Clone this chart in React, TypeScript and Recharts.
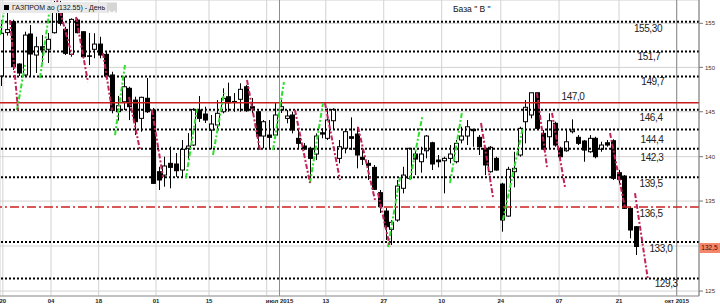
import React from 'react';
import { ComposedChart, Bar, XAxis, YAxis, CartesianGrid, ReferenceLine, ReferenceDot } from 'recharts';

// ---- candle data (trading-day index = position in arrays) ----
const openP = [149.80,154.2,155.30,151.02,149.91,154.06,151.93,152.77,152.51,154.19,156.31,154.53,152.00,155.47,154.29,151.85,152.51,153.04,152.00,149.91,146.2,147.20,148.56,147.37,145.52,147.55,146.36,140.12,139.78,140.97,140.90,140.29,142.49,142.82,146.36,145.96,144.34,144.85,146.19,147.71,147.23,147.45,148.72,146.70,146.19,143.73,143.83,143.83,146.36,145.52,145.86,143.50,142.72,142.49,141.91,144.06,143.50,145.28,141.47,142.49,143.66,143.93,141.58,140.97,140.56,138.00,136.14,134.29,135.23,138.44,139.45,141.91,141.13,142.24,143.05,141.30,141.23,141.47,141.13,143.33,143.73,144.41,143.60,142.49,140.12,141.47,138.87,135.63,140.12,141.81,145.18,145.86,148.11,144.00,143.66,145.02,142.49,142.24,144.17,143.60,143.23,142.14,143.50,142.39,143.05,143.26,140.02,139.68,136.41,134.55];
const highP = [155.47,156.2,155.5,151.09,154.29,154.97,153.78,153.95,154.16,157.4,157.4,154.79,155.64,155.64,154.32,154.16,154.13,153.78,152.33,150.24,147.8,149.73,148.72,147.71,147.71,149.60,146.57,140.62,141.64,142.65,142.01,143.33,144.03,146.54,147.78,146.70,145.86,147.37,148.56,149.13,148.08,149.07,148.89,147.58,146.36,145.35,145.35,147.07,147.37,146.36,146.19,144.34,143.02,142.65,144.00,144.51,146.54,146.54,143.33,144.34,145.62,144.67,142.31,141.30,140.80,138.27,136.44,135.23,139.28,140.62,142.52,142.31,142.65,143.83,143.15,141.81,141.64,142.82,143.33,144.67,145.35,144.45,143.83,142.65,142.72,141.64,139.00,140.62,142.14,144.67,147.37,148.11,148.11,144.34,146.03,145.18,142.65,144.41,145.42,143.83,143.33,143.83,143.66,143.15,143.33,143.40,140.29,139.78,136.58,134.6];
const lowP = [148.79,153.9,150.41,149.80,149.73,149.80,150.11,151.25,151.12,154.1,154.9,151.93,151.76,154.13,151.60,150.92,151.60,151.60,149.70,146.03,145.3,146.36,145.35,143.83,144.17,146.06,138.9,138.27,138.60,138.44,139.61,139.48,141.30,142.72,145.15,145.05,142.39,144.34,146.03,146.19,146.19,146.19,146.19,146.06,142.39,142.49,142.52,143.63,146.06,145.02,144.00,142.49,142.31,139.28,141.30,143.50,143.33,144.34,140.97,141.98,142.31,140.46,140.80,139.28,138.27,135.94,133.21,132.70,135.06,137.93,139.28,139.78,140.02,141.47,140.29,140.56,137.93,140.97,140.97,142.99,142.82,142.65,141.81,139.78,140.02,140.22,134.05,135.56,138.54,141.64,142.99,145.52,144.41,142.31,142.49,142.65,141.47,142.14,144.00,142.82,141.13,142.04,141.47,142.14,142.65,139.28,138.94,136.35,133.38,131.69];
const closeP = [154.13,154.5,150.75,150.11,153.95,152.03,152.77,152.44,153.52,156.76,155.14,152.10,155.54,154.19,151.76,151.80,153.04,151.93,149.80,146.36,146.8,148.72,146.70,145.18,147.65,146.19,138.94,139.28,140.70,140.56,140.22,142.39,142.72,146.43,145.52,145.35,144.95,146.03,147.55,147.10,147.18,148.46,146.29,146.54,143.73,145.18,143.60,145.86,146.70,145.76,144.34,142.99,142.49,141.47,143.73,143.93,145.35,146.43,142.65,144.17,143.50,141.81,141.37,140.77,138.34,136.58,134.55,135.00,138.67,139.78,142.49,141.40,141.91,143.73,140.90,141.13,141.47,141.91,142.99,143.73,144.67,144.27,142.65,140.80,142.59,140.29,135.23,140.36,140.46,144.51,146.64,148.11,144.51,142.49,145.28,142.82,141.64,143.15,144.34,142.99,142.31,143.50,141.64,142.82,142.82,139.45,139.35,136.41,134.22,132.55];

// ---- x axis ticks (trading-day index) ----
const xTickPos = [0.2, 8.47, 16.65, 26.5, 35.6, 45.5, 47.7, 55.65, 65.6, 75.55, 85.7, 95.7, 106.0, 115.9];
const xTickLabels = ['20', '04', '18', '01', '15', '', 'июл 2015', '13', '27', '10', '24', '07', '21', 'окт 2015'];
const monthLines = [47.7, 115.9];

// ---- y axis ticks as drawn on the right scale (130 is hidden under the price box) ----
const yTickPos = [155.14, 150.68, 146.19, 141.64, 137.15, 132.6, 128.04];
const yTickLabels = ['155', '150', '145', '140', '135', '', '125'];

// ---- horizontal levels ----
const dottedLevels = [155.3, 152.3, 149.75, 146.4, 144.4, 142.45, 139.55, 133.0, 129.3];
const solidRedLevel = 147.1;
const dashRedLevel = 136.55;

// ---- level annotations: text, index position, value position ----
const levelText = ['155,30', '151,7', '149,7', '147,0', '146,4', '144,4', '142,3', '139,5', '136,5', '133,0', '129,3'];
const levelTextIdx = [110.97, 111.15, 111.8, 98.1, 111.5, 111.66, 111.66, 111.5, 111.5, 113.2, 114.1];
const levelTextVal = [154.66, 151.83, 149.30, 147.78, 145.62, 143.40, 141.58, 138.94, 135.84, 132.32, 128.82];

// ---- trend segments [i1, v1, i2, v2] ----
const upSegments = [
  [-0.29, 153.95, 0.39, 156.28], [2.63, 146.36, 4.0, 150.92], [6.58, 149.6, 8.29, 156.79],
  [19.46, 143.83, 21.17, 150.92], [31.64, 139.48, 33.53, 146.46], [36.28, 141.81, 38.17, 148.08],
  [46.58, 142.31, 48.47, 149.2], [52.94, 138.97, 55.17, 147.07], [66.33, 132.5, 68.39, 139.58],
  [70.1, 139.28, 72.2, 145.65], [76.98, 138.97, 79.04, 146.16], [86.07, 135.23, 89.51, 144.64],
];
const downSegments = [
  [1.43, 155.47, 2.8, 146.36], [9.5, 157.45, 12.07, 151.93], [12.76, 155.78, 14.82, 149.2],
  [17.39, 152.13, 18.94, 146.36], [21.86, 147.68, 23.75, 142.31], [25.81, 146.36, 27.7, 139.58],
  [42.12, 149.4, 44.35, 142.31], [50.36, 146.36, 52.94, 138.97], [55.51, 147.07, 58.09, 139.28],
  [61.18, 144.64, 64.1, 137.25], [64.61, 137.96, 66.67, 132.5], [82.3, 145.05, 84.36, 137.56],
  [91.91, 148.08, 93.63, 140.59], [94.49, 146.06, 96.72, 138.57], [104.45, 144.04, 107.03, 136.44],
  [108.74, 137.95, 110.97, 129.16],
];

const candles = openP.map((o, i) => ({ i, o, h: highP[i], l: lowP[i], c: closeP[i] }));

const CandleShape = (props: any) => {
  let { x, y, width, height, payload } = props;
  if (height < 0) { y += height; height = -height; }
  const { o, h, l, c } = payload;
  const range = h - l;
  const k = range > 0 ? height / range : 0;
  const yO = y + (h - o) * k;
  const yC = y + (h - c) * k;
  const top = Math.min(yO, yC);
  const bh = Math.max(0.5, Math.abs(yO - yC));
  const cx = Math.round(x + width / 2);
  const up = c >= o;
  return (
    <g>
      <line x1={cx + 0.5} x2={cx + 0.5} y1={y} y2={y + height} stroke="#000" strokeWidth={1} />
      <rect x={cx - 1.5} y={top} width={4} height={bh} fill={up ? '#fff' : '#000'} stroke="#000" strokeWidth={1} />
    </g>
  );
};

const FONT = '"Liberation Sans", Arial, sans-serif';

export default function App() {
  return (
    <div style={{ position: 'absolute', left: 0, top: 0, width: 720, height: 306, background: '#fff', fontFamily: FONT, overflow: 'hidden' }}>
      <ComposedChart width={720} height={306} data={candles} margin={{ top: 0, right: 0, bottom: 0, left: 0 }}>
        <CartesianGrid stroke="#d2d2d2" strokeWidth={1} />
        <XAxis
          type="number"
          dataKey="i"
          domain={[-0.29, 119.73]}
          allowDataOverflow
          ticks={xTickPos}
          interval={0}
          tickFormatter={(v: number, idx: number) => xTickLabels[idx] ?? ''}
          height={10}
          tickLine={false}
          tickSize={2}
          tickMargin={1}
          axisLine={{ stroke: '#9a9a9a' }}
          tick={{ fontSize: 6, fontWeight: 700, fill: '#222', fontFamily: FONT }}
        />
        <YAxis
          orientation="right"
          domain={[127.54, 157.5]}
          allowDataOverflow
          ticks={yTickPos}
          interval={0}
          tickFormatter={(v: number, idx: number) => yTickLabels[idx] ?? ''}
          width={21}
          tickSize={4}
          tickMargin={2}
          axisLine={{ stroke: '#777' }}
          tickLine={{ stroke: '#777' }}
          tick={{ fontSize: 6, fill: '#333', fontFamily: FONT }}
        />
        {monthLines.map((m) => (
          <ReferenceLine key={'m' + m} x={m} stroke="#8c8c8c" strokeWidth={1} />
        ))}
        <Bar dataKey={(d: any) => [d.l, d.h]} barSize={5} shape={<CandleShape />} isAnimationActive={false} />
        {dottedLevels.map((v) => (
          <ReferenceLine key={'d' + v} y={v} stroke="#000" strokeWidth={2} strokeDasharray="2 2" />
        ))}
        <ReferenceLine y={solidRedLevel} stroke="#c81e1e" strokeWidth={1.3} />
        <ReferenceLine y={dashRedLevel} stroke="#cc2020" strokeWidth={1.3} strokeDasharray="9 3 2 3" />
        {upSegments.map((s, k) => (
          <ReferenceLine key={'u' + k} ifOverflow="hidden" segment={[{ x: s[0], y: s[1] }, { x: s[2], y: s[3] }]} stroke="#2ee02e" strokeWidth={2} strokeDasharray="5 2 2 2" />
        ))}
        {downSegments.map((s, k) => (
          <ReferenceLine key={'r' + k} ifOverflow="hidden" segment={[{ x: s[0], y: s[1] }, { x: s[2], y: s[3] }]} stroke="#c2245a" strokeWidth={2} strokeDasharray="5 2 2 2" />
        ))}
        {levelText.map((t, k) => (
          <ReferenceDot
            key={'t' + k}
            x={levelTextIdx[k]}
            y={levelTextVal[k]}
            r={1}
            ifOverflow="visible"
            shape={(p: any) => (
              <text x={p.cx} y={p.cy} textAnchor="middle" dominantBaseline="central" fontSize={10} letterSpacing={-0.4} fill="#222" fontFamily={FONT}>
                {t}
              </text>
            )}
          />
        ))}
      </ComposedChart>

      <div style={{ position: 'absolute', left: 1, top: 2, width: 116, height: 11, background: '#e9e9e9' }}>
        <div style={{ position: 'absolute', left: 3, top: 3, width: 5, height: 5, background: '#000' }} />
        <div style={{ position: 'absolute', left: 11, top: 0, fontSize: 7, lineHeight: '11px', color: '#111', whiteSpace: 'nowrap' }}>
          ГАЗПРОМ ао (132.55) - День
        </div>
        <div style={{ position: 'absolute', left: 106, top: 1, width: 10, height: 9, background: '#d6d6d6' }}>
          <svg width={10} height={9}>
            <polyline points="2,3 5,6 8,3" fill="none" stroke="#fff" strokeWidth={1.5} />
          </svg>
        </div>
      </div>
      <div style={{ position: 'absolute', left: 453, top: 4, fontSize: 8.5, lineHeight: '11px', color: '#111', whiteSpace: 'nowrap' }}>
        База " В "
      </div>
      <div style={{ position: 'absolute', left: 699, top: 243, width: 21, height: 10, background: '#f4876a', fontSize: 6.5, lineHeight: '10px', textAlign: 'center', color: '#3a0a00' }}>
        132,5
      </div>
    </div>
  );
}
